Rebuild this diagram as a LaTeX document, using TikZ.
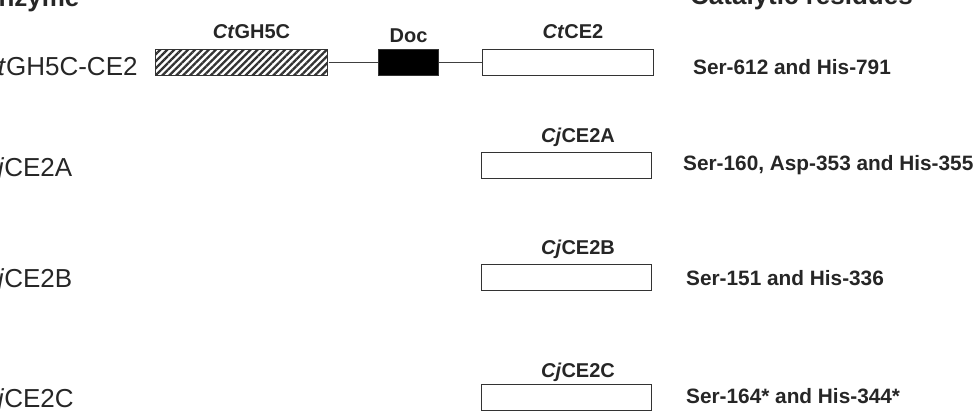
\documentclass[tikz,border=0pt]{standalone}
\usepackage{fontspec}
\setmainfont{Liberation Sans}
\usepackage{xcolor}
\usetikzlibrary{patterns.meta}

\begin{document}
\begin{tikzpicture}[
      x=1pt, y=-1pt,
      dombox/.style={rectangle, draw=black!80, line width=1.4pt, fill=white, inner sep=0pt, minimum height=26pt},
      linker/.style={draw=black!75, line width=1pt},
      head/.style={anchor=base west, inner sep=0pt, text=black!85, font=\bfseries\fontsize{26}{30}\selectfont},
      enz/.style={anchor=base west, inner sep=0pt, text=black!85, font=\fontsize{26}{30}\selectfont},
      dlab/.style={anchor=base, inner sep=0pt, text=black!85, font=\bfseries\fontsize{20}{24}\selectfont},
      res/.style={anchor=base west, inner sep=0pt, text=black!85, font=\bfseries\fontsize{20.8}{25}\selectfont}
    ]
      \useasboundingbox (0,0) rectangle (979,418);
      \clip (0,0) rectangle (979,418);
      % headers
      \node[head] (hdenz) at (-19, 6) {Enzyme};
      \node[head] (hdres) at (690, 4.5) {Catalytic residues};
      % row 1: modular enzyme
      \node[dombox, fill=none, pattern={Lines[angle=45, distance=4.9pt, line width=2.3pt]}, pattern color=black!80, minimum width=172pt] (gh5c) at (241.5, 62.5) {};
      \node[dombox, fill=black, minimum width=60pt] (doc) at (408.5, 62.5) {};
      \node[dombox, minimum width=171pt] (ce2) at (568, 62.5) {};
      \draw[linker] (gh5c) -- (doc);
      \draw[linker] (doc) -- (ce2);
      \node[dlab] (lgh5c) at (251.5, 38.5) {\textit{Ct}GH5C};
      \node[dlab] (ldoc) at (408.5, 42) {Doc};
      \node[dlab] (lce2) at (573, 38.5) {\textit{Ct}CE2};
      \node[enz] (e1) at (-21, 75.5) {\textit{Ct}GH5C-CE2};
      \node[res] (r1) at (693, 74) {Ser-612 and His-791};
      % rows 2-4: single domain esterases
      \node[dombox, minimum width=170pt] (ce2a) at (566.5, 165.5) {};
      \node[dlab] (lce2a) at (578, 142.5) {\textit{Cj}CE2A};
      \node[enz] (e2) at (-21, 176) {\textit{Cj}CE2A};
      \node[res] (r2) at (683, 170) {Ser-160, Asp-353 and His-355};
      \node[dombox, minimum width=170pt] (ce2b) at (566.5, 277.5) {};
      \node[dlab] (lce2b) at (578, 254.5) {\textit{Cj}CE2B};
      \node[enz] (e3) at (-21, 287) {\textit{Cj}CE2B};
      \node[res] (r3) at (686, 285) {Ser-151 and His-336};
      \node[dombox, minimum width=170pt] (ce2c) at (566.5, 397.5) {};
      \node[dlab] (lce2c) at (578, 377) {\textit{Cj}CE2C};
      \node[enz] (e4) at (-21, 407) {\textit{Cj}CE2C};
      \node[res] (r4) at (686, 403) {Ser-164* and His-344*};
    \end{tikzpicture}
\end{document}
